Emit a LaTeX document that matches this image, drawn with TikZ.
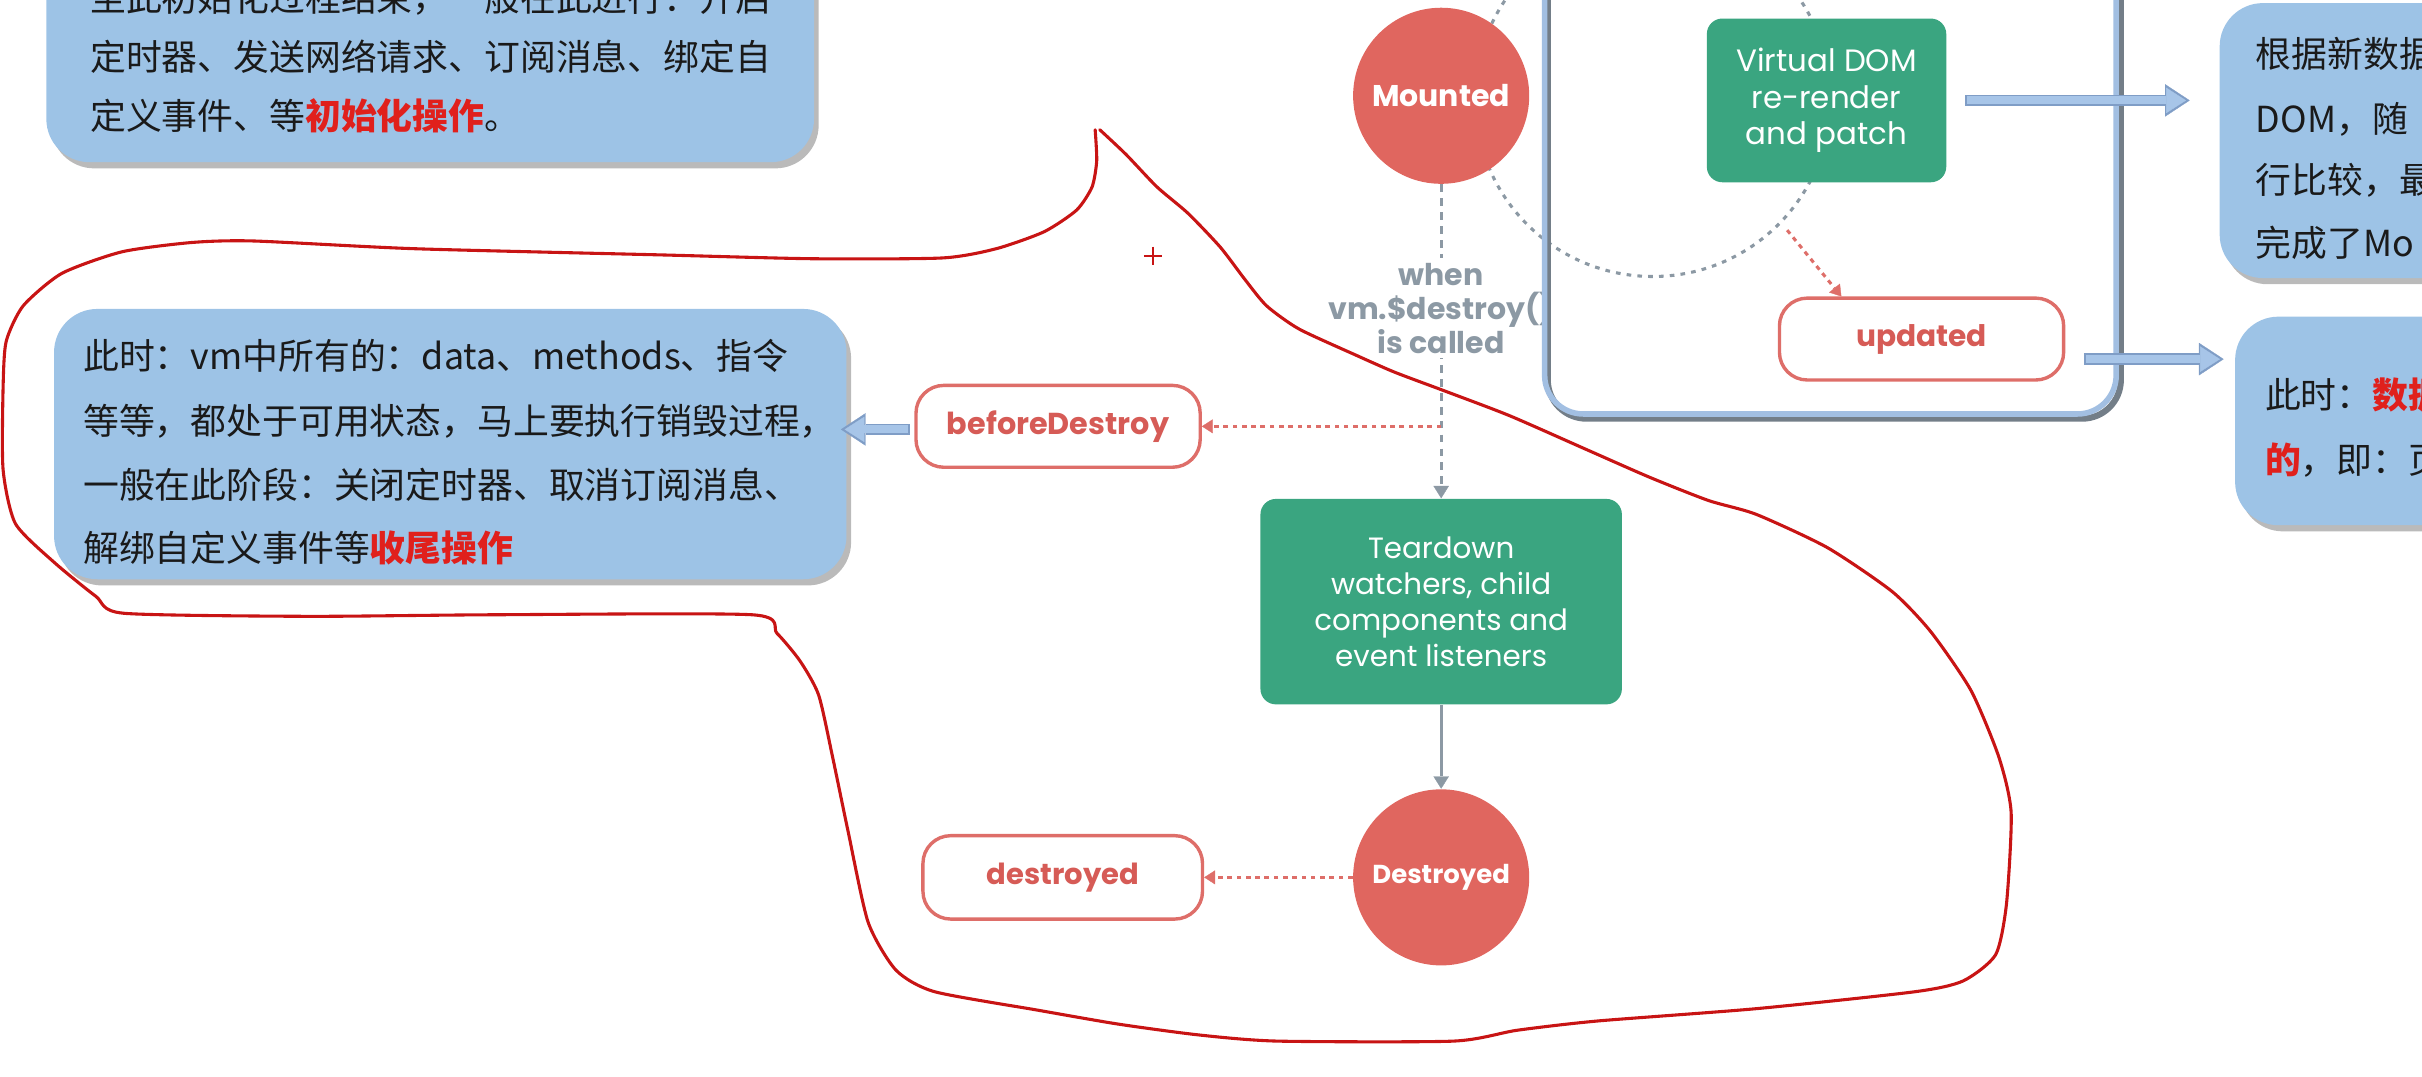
\documentclass[tikz,border=0pt]{standalone}
\usepackage{fontspec}
\usetikzlibrary{arrows.meta,calc,shadows}
\newfontfamily\cjk{Noto Sans CJK SC}
\newfontfamily\pop{Poppins}
\definecolor{noteblue}{HTML}{9DC3E6}
\definecolor{notered}{HTML}{E0201C}
\definecolor{notetext}{HTML}{1A1A1A}
\definecolor{circred}{HTML}{E0665F}
\definecolor{vgreen}{HTML}{3AA580}
\definecolor{boxred}{HTML}{DE6E69}
\definecolor{labred}{HTML}{D65B56}
\definecolor{greyline}{HTML}{8C99A4}
\definecolor{contblue}{HTML}{A2BFE2}
\definecolor{contshadow}{HTML}{737E88}
\definecolor{arrfill}{HTML}{A7C5E8}
\definecolor{arredge}{HTML}{7F9DC6}
\definecolor{handred}{HTML}{C81414}
\pgfdeclarelayer{bg}
\pgfdeclarelayer{fg}
\pgfsetlayers{bg,main,fg}
\begin{document}
\begin{tikzpicture}[x=0.5pt,y=-0.5pt,
  note/.style={rectangle, rounded corners=14pt, fill=noteblue, draw=none, inner sep=0pt,
    drop shadow={shadow xshift=1.5pt, shadow yshift=-2pt, opacity=0.45, fill=black!60}},
  notetxt/.style={anchor=west, inner sep=0pt, text=notetext, font=\cjk\fontsize{11.6pt}{14pt}\selectfont},
  circ/.style={circle, fill=circred, draw=none, minimum size=57pt, inner sep=0pt, text=white},
  gbox/.style={rectangle, rounded corners=5pt, fill=vgreen, text=white, align=center, inner sep=0pt,
    font=\pop\fontsize{10pt}{11.75pt}\selectfont},
  rbox/.style={rectangle, rounded corners=9pt, draw=boxred, line width=1.1pt, fill=white, text=labred,
    font=\pop\bfseries\fontsize{9.6pt}{12pt}\selectfont, minimum width=92pt, minimum height=26.5pt, inner sep=0pt},
  reddot/.style={draw=boxred, line width=1pt, dash pattern=on 1.5pt off 1.5pt,
    -{Triangle[width=4.5pt,length=3.5pt,line width=0.1pt]}},
  greydash/.style={draw=greyline, line width=1pt, dash pattern=on 2.5pt off 2pt,
    -{Triangle[width=5pt,length=4pt,line width=0.1pt]}},
  greyarr/.style={draw=greyline, line width=1pt, -{Triangle[width=5pt,length=4pt,line width=0.1pt]}},
  loopdash/.style={draw=greyline, line width=1pt, dash pattern=on 1.5pt off 2pt},
  bluearrout/.style={draw=arredge, line width=3.8pt, -{Triangle[width=10.5pt,length=8pt,line width=0.1pt]}},
  bluearrin/.style={draw=arrfill, line width=2.6pt, shorten >=1.2pt, shorten <=0.6pt,
    -{Triangle[width=8.2pt,length=6.4pt,line width=0.1pt]}},
  handline/.style={draw=handred, line width=1pt, line join=round, line cap=round}
]
\useasboundingbox (0,0) rectangle (1568,696.6);
\clip (0,0) rectangle (1568,696.6);

% ---------- note boxes ----------
\node[note, minimum width=248.5pt, minimum height=82.5pt] (note1) at (278.5,22.5) {};
\node[note, minimum width=256.5pt, minimum height=87.5pt] (note2) at (291.5,287.5) {};
\node[note, minimum width=101.5pt, minimum height=89pt] (note3) at (1538.5,91) {};
\node[note, minimum width=96.5pt, minimum height=67.5pt] (note4) at (1543.5,272.5) {};

\node[notetxt] (n1a) at (58,-1) {至此初始化过程结束，一般在此进行：开启};
\node[notetxt] (n1b) at (58,37) {定时器、发送网络请求、订阅消息、绑定自};
\node[notetxt] (n1c) at (58,75) {定义事件、等{\color{notered}\bfseries 初始化操作}。};

\node[notetxt] (n2a) at (53.5,230.5) {此时：vm中所有的：data、methods、指令};
\node[notetxt] (n2b) at (53.5,272.5) {等等，都处于可用状态，马上要执行销毁过程，};
\node[notetxt] (n2c) at (53.5,314) {一般在此阶段：关闭定时器、取消订阅消息、};
\node[notetxt] (n2d) at (53.5,355) {解绑自定义事件等{\color{notered}\bfseries 收尾操作}};

\node[notetxt] (n3a) at (1460,35) {根据新数据};
\node[notetxt] (n3b) at (1460,77) {DOM，随};
\node[notetxt] (n3c) at (1460,117) {行比较，最};
\node[notetxt] (n3d) at (1460,157) {完成了Mo};

\node[notetxt] (n4a) at (1466,256) {此时：{\color{notered}\bfseries 数据}};
\node[notetxt] (n4b) at (1466,298) {{\color{notered}\bfseries 的}，即：页};

% ---------- diagram nodes ----------
\node[circ, font=\pop\bfseries\fontsize{9.7pt}{12pt}\selectfont] (mounted) at (933,62) {Mounted};
\node[gbox, minimum width=77.5pt, minimum height=53pt] (vdom) at (1182.5,65) {Virtual DOM\\re-render\\and patch};
\node[rbox] (updated) at (1244,219.5) {updated};
\node[rbox, font=\pop\bfseries\fontsize{9.8pt}{12pt}\selectfont] (bd) at (685,276) {beforeDestroy};
\node[gbox, minimum width=117pt, minimum height=66.5pt, font=\pop\fontsize{9.5pt}{11.6pt}\selectfont] (teardown) at (933,389.5)
  {Teardown\\watchers, child\\components and\\event listeners};
\node[circ, font=\pop\bfseries\fontsize{8.4pt}{11pt}\selectfont] (destroyedc) at (933,568) {Destroyed};
\node[rbox, minimum width=90.5pt, minimum height=27pt, font=\pop\bfseries\fontsize{9.4pt}{12pt}\selectfont] (destroyedbox) at (688,568) {destroyed};

\node[fill=white, inner sep=1.5pt, align=center, text=greyline,
  font=\pop\bfseries\fontsize{9.7pt}{11pt}\selectfont] (whenlbl) at (933,199.5) {when\\vm.\$destroy()\\is called};

% ---------- update-loop container (over the label, under the arrows) ----------
\draw[contshadow, line width=2pt, rounded corners=12.5pt] (1002,-40) rectangle (1373,271);
\draw[contblue, line width=1.8pt, rounded corners=12.5pt] (1000,-40) rectangle (1370,268);

% ---------- background lines ----------
\begin{pgfonlayer}{bg}
  \draw[greydash] (mounted) -- (teardown);
  \draw[loopdash] (1070,64) circle [radius=57.5pt];
\end{pgfonlayer}

% ---------- connectors ----------
\coordinate (uStart) at (1157,149);
\draw[reddot] (uStart) -- (updated.152);
\draw[reddot] (teardown.north |- bd.east) -- (bd.east);
\draw[reddot] (destroyedc.west) -- (destroyedbox.east);
\draw[greyarr] (teardown) -- (destroyedc);

\draw[bluearrout, shorten <=6pt, shorten >=9.5pt] (vdom.east) -- (vdom.east -| note3.west);
\draw[bluearrin, shorten <=6.6pt, shorten >=10.7pt] (vdom.east) -- (vdom.east -| note3.west);
\draw[bluearrout, shorten <=6pt, shorten >=3.5pt] ([yshift=-6.5pt]updated.east) -- ([yshift=-6.5pt]updated.east -| note4.west);
\draw[bluearrin, shorten <=6.6pt, shorten >=4.7pt] ([yshift=-6.5pt]updated.east) -- ([yshift=-6.5pt]updated.east -| note4.west);
\draw[bluearrout, shorten <=1.5pt, shorten >=-2pt] ([yshift=-1pt]bd.west) -- ([yshift=-1pt]bd.west -| note2.east);
\draw[bluearrin, shorten <=2.1pt, shorten >=-0.8pt] ([yshift=-1pt]bd.west) -- ([yshift=-1pt]bd.west -| note2.east);

% ---------- hand-drawn red outline ----------
\begin{pgfonlayer}{fg}
\draw[handline] plot[smooth, tension=0.4] coordinates {(709,84) (710,104) (707,121) (697,136) (676,150) (645,161) (610,167) (526,167.5) (427,165) (268,161) (164,156) (124,157) (79,163) (40,177) (15,198) (4,221) (2,251) (2,304) (10,339) (35,364) (62,386) (80,397) (199,399) (318,398) (487,398) (503,410) (518,428) (530,450) (539,490) (549,538) (562,597) (580,628) (605,642) (672,654) (724,663) (776,670) (827,674) (941,674) (982,667) (1034,661) (1137,653) (1240,642) (1271,635) (1292,618) (1299,585) (1302,526) (1294,490) (1276,447) (1250,409) (1225,383) (1183,354.5) (1137,333) (1106,324) (1068,309) (1027,291) (977,269) (935,253) (903,241) (878,230) (841,213) (820,198) (806,181) (790,160) (769,138) (749,121) (729,100) (712,84)};
\draw[handred, line width=0.7pt] (740.5,165.7) -- (752.5,165.7) (746.5,159.7) -- (746.5,171.7);
\end{pgfonlayer}
\end{tikzpicture}
\end{document}
